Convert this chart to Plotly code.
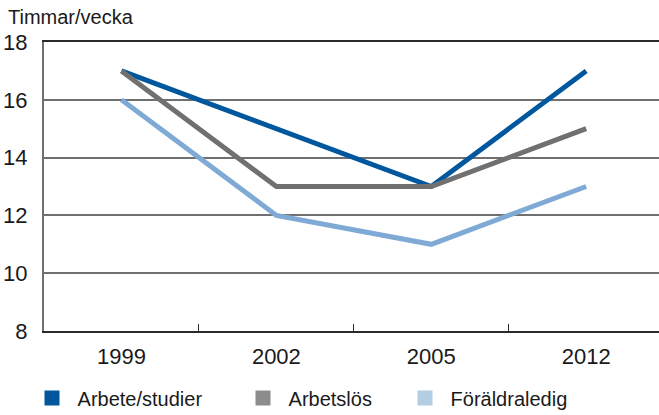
import plotly.graph_objects as go

years = ["1999", "2002", "2005", "2012"]
arbete = [17, 15, 13, 17]
arbetslos = [17, 13, 13, 15]
foralder = [16, 12, 11, 13]
names = ["Arbete/studier", "Arbetslös", "Föräldraledig"]
line_colors = ["#00579E", "#707070", "#80AAD6"]
legend_colors = ["#00579E", "#8C8C8C", "#B2CDE4"]
legend_x = [32, 243, 405]
y_ticks = [8, 10, 12, 14, 16, 18]

FONT = "Liberation Sans, Arial, sans-serif"

fig = go.Figure()
for vals, lc in zip([arbete, arbetslos, foralder], line_colors):
    fig.add_trace(go.Scatter(x=years, y=vals, mode="lines", line=dict(color=lc, width=5),
                             showlegend=False, hoverinfo="skip"))

legend_layouts = {}
for i, (name, gc, lx) in enumerate(zip(names, legend_colors, legend_x)):
    lname = "legend" if i == 0 else f"legend{i+1}"
    fig.add_trace(go.Scatter(x=[None], y=[None], mode="markers", name="\u00a0" + name,
                             legend=lname,
                             marker=dict(symbol="square", size=15, color=gc, line=dict(width=0))))
    legend_layouts[lname] = dict(orientation="h", xref="container", yref="container",
                                 x=lx/659, xanchor="left", y=17/415, yanchor="middle",
                                 font=dict(size=20, family=FONT, color="#1a1a1a"),
                                 bgcolor="rgba(0,0,0,0)")

fig.update_layout(
    width=659, height=415,
    margin=dict(l=44, r=0, t=42, b=84, autoexpand=False),
    paper_bgcolor="white", plot_bgcolor="white",
    font=dict(family=FONT, size=20, color="#1a1a1a"),
    title=dict(text="Timmar/vecka", xref="container", x=8/659, xanchor="left",
               yref="container", y=1-17/415, yanchor="middle",
               font=dict(family=FONT, size=20, color="#1a1a1a")),
    xaxis=dict(type="category", range=[-0.5, 3.47], showgrid=False, automargin=False,
               showline=True, linecolor="#2a2a2a", linewidth=2, mirror=True,
               ticks="inside", tickson="boundaries", ticklen=7, tickcolor="#2a2a2a", tickwidth=1,
               ticklabelstandoff=5, tickfont=dict(size=22)),
    yaxis=dict(range=[8, 18], tickvals=y_ticks, showgrid=True, gridcolor="#707070", gridwidth=1.5,
               showline=True, linecolor="#707070", linewidth=2, zeroline=False, automargin=False,
               ticks="", ticklabelstandoff=10, tickfont=dict(size=22)),
    showlegend=True,
    **legend_layouts,
)

fig.write_html("out.html", config={"displayModeBar": False},
               post_script="document.body.style.margin='0';document.body.style.overflow='hidden';")
